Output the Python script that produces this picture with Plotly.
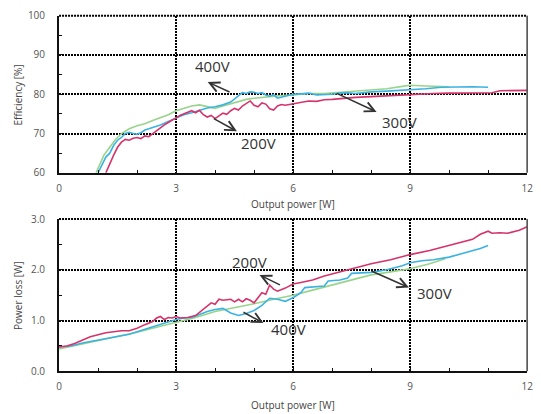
import plotly.graph_objects as go

# ---------------- data ----------------
eff_200_x = [1.20,1.30,1.40,1.50,1.60,1.70,1.80,1.90,2.00,2.10,2.20,2.30,2.40,2.50,2.60,2.70,2.80,2.90,3.00,3.10,3.20,3.30,3.40,3.50,3.60,3.70,3.80,3.90,4.00,4.10,4.20,4.30,4.40,4.50,4.60,4.70,4.80,4.90,5.00,5.10,5.20,5.30,5.40,5.50,5.60,5.70,5.80,6.00,6.20,6.40,6.60,6.80,7.00,7.30,7.60,8.00,8.40,8.80,9.20,9.60,10.00,10.40,10.80,11.10,11.30,11.60,12.00]
eff_200_y = [60.0,62.5,64.5,66.5,67.8,68.5,68.3,68.8,69.0,68.7,69.4,69.2,70.0,70.8,71.5,72.2,72.8,73.5,74.0,74.6,75.0,75.4,75.8,75.3,75.9,74.8,74.2,74.6,73.8,74.5,75.2,74.9,75.8,76.4,76.0,77.0,77.6,78.3,77.2,76.8,77.8,77.5,76.3,76.0,77.0,77.4,77.2,77.6,77.9,78.3,78.2,78.6,78.7,79.0,79.2,79.4,79.6,79.9,80.0,80.2,80.3,80.4,80.5,80.4,80.9,81.0,81.0]

eff_300_x = [1.00,1.10,1.20,1.30,1.40,1.50,1.60,1.70,1.80,1.90,2.00,2.10,2.20,2.30,2.40,2.60,2.80,3.00,3.20,3.40,3.60,3.80,4.00,4.20,4.40,4.50,4.60,4.70,4.80,4.90,5.00,5.10,5.20,5.30,5.40,5.50,5.60,5.70,5.80,6.00,6.20,6.40,6.60,6.80,7.00,7.20,7.40,7.60,8.00,8.40,8.80,9.00,9.40,9.80,10.20,10.60,11.00]
eff_300_y = [60.0,62.0,64.0,65.0,67.0,68.3,69.0,70.0,70.3,70.0,69.8,70.2,70.9,71.2,71.5,72.2,73.1,74.0,74.8,75.3,76.0,76.5,76.8,77.3,78.0,78.8,79.5,80.4,80.2,80.6,80.5,80.2,80.4,79.8,79.5,79.9,79.0,79.3,79.6,80.0,80.1,80.3,79.8,79.9,80.0,80.3,80.4,80.2,80.6,80.8,81.0,81.2,81.4,81.8,81.9,81.9,81.8]

eff_400_x = [0.95,1.05,1.15,1.30,1.45,1.60,1.80,2.00,2.20,2.40,2.60,2.80,3.00,3.20,3.40,3.60,3.80,4.00,4.20,4.40,4.60,4.80,5.00,5.30,5.60,6.00,6.40,6.80,7.20,7.60,8.00,8.40,8.80,9.00,9.40,9.80,10.00]
eff_400_y = [60.0,62.5,64.5,66.5,68.5,70.0,71.2,72.0,72.5,73.3,74.0,74.8,75.8,76.4,77.0,77.3,76.8,76.4,77.0,77.6,78.2,78.7,79.0,79.3,79.6,79.8,80.2,80.2,80.5,80.8,81.0,81.4,82.0,82.3,82.1,82.0,81.9]

loss_200_x = [0.00,0.20,0.40,0.60,0.80,1.00,1.20,1.40,1.60,1.80,2.00,2.20,2.40,2.50,2.60,2.70,2.80,2.90,3.00,3.10,3.30,3.50,3.70,3.80,3.90,4.00,4.10,4.20,4.40,4.50,4.60,4.70,4.80,4.90,5.00,5.10,5.20,5.30,5.40,5.50,5.60,5.80,6.00,6.20,6.50,6.80,7.00,7.50,8.00,8.50,9.00,9.50,10.00,10.40,10.60,10.80,11.00,11.10,11.30,11.50,11.80,12.00]
loss_200_y = [0.48,0.50,0.55,0.62,0.68,0.72,0.76,0.78,0.80,0.80,0.85,0.92,0.98,1.05,1.08,1.02,1.06,1.05,1.08,1.05,1.06,1.10,1.22,1.28,1.35,1.32,1.42,1.40,1.42,1.37,1.42,1.37,1.43,1.40,1.35,1.45,1.55,1.52,1.70,1.62,1.58,1.64,1.72,1.75,1.80,1.88,1.92,2.02,2.12,2.20,2.30,2.38,2.48,2.56,2.60,2.70,2.76,2.72,2.73,2.72,2.78,2.85]

loss_300_x = [0.00,0.30,0.60,1.00,1.40,1.80,2.00,2.40,2.80,3.00,3.20,3.40,3.60,3.80,4.00,4.20,4.40,4.60,4.80,5.00,5.20,5.40,5.60,5.80,6.00,6.20,6.30,6.60,6.80,6.90,7.20,7.40,7.50,8.00,8.40,8.80,9.00,9.30,9.60,10.00,10.40,10.80,11.00]
loss_300_y = [0.48,0.50,0.56,0.62,0.68,0.73,0.78,0.88,0.97,1.02,1.05,1.06,1.12,1.18,1.22,1.24,1.15,1.10,1.14,1.20,1.30,1.44,1.42,1.38,1.45,1.55,1.65,1.66,1.68,1.78,1.80,1.84,1.93,1.95,2.00,2.08,2.14,2.18,2.20,2.25,2.33,2.42,2.48]

loss_400_x = [0.00,0.50,1.00,1.50,2.00,2.50,3.00,3.50,4.00,4.50,5.00,5.50,6.00,6.50,7.00,7.50,8.00,8.50,9.00,9.50,9.90]
loss_400_y = [0.44,0.52,0.60,0.68,0.77,0.87,0.96,1.06,1.18,1.25,1.33,1.42,1.50,1.60,1.70,1.80,1.90,1.96,2.02,2.12,2.22]

x_ticks = [0, 3, 6, 9, 12]
eff_ticks = [60, 70, 80, 90, 100]
loss_ticks = [0.0, 1.0, 2.0, 3.0]

C200 = "#d6336b"
C300 = "#3cb2e2"
C400 = "#98d48c"

fig = go.Figure()
for xs, ys, c in [(eff_400_x, eff_400_y, C400), (eff_300_x, eff_300_y, C300), (eff_200_x, eff_200_y, C200)]:
    fig.add_trace(go.Scatter(x=xs, y=ys, mode="lines", line=dict(color=c, width=1.6), xaxis="x", yaxis="y", showlegend=False))
for xs, ys, c in [(loss_400_x, loss_400_y, C400), (loss_300_x, loss_300_y, C300), (loss_200_x, loss_200_y, C200)]:
    fig.add_trace(go.Scatter(x=xs, y=ys, mode="lines", line=dict(color=c, width=1.6), xaxis="x2", yaxis="y2", showlegend=False))

W, H = 541, 414
xd = [57 / W, 533 / W]
yd1 = [(H - 171) / H, (H - 8) / H]
yd2 = [(H - 377) / H, (H - 219) / H]

GRID = dict(showgrid=True, gridcolor="#000", griddash="2px,1px", gridwidth=1.6)
tickfont = dict(family="Open Sans", size=10, color="#555")
common_x = dict(range=[0, 12], tickvals=x_ticks, showline=True, linecolor="#111", linewidth=2,
                ticks="inside", ticklen=3, tickcolor="#111",
                minor=dict(dtick=1, ticks="inside", ticklen=3, tickcolor="#111", showgrid=False),
                tickfont=tickfont, zeroline=False, ticklabelstandoff=5, **GRID)
common_y = dict(showline=True, linecolor="#111", linewidth=2,
                ticks="inside", ticklen=3, tickcolor="#111",
                tickfont=tickfont, zeroline=False, ticklabelstandoff=10, **GRID)
fig.update_layout(
    width=W, height=H, margin=dict(l=0, r=0, t=0, b=0),
    paper_bgcolor="white", plot_bgcolor="white",
    xaxis=dict(domain=xd, anchor="y", **common_x),
    xaxis2=dict(domain=xd, anchor="y2", **common_x),
    yaxis=dict(domain=yd1, anchor="x", range=[60, 100], tickvals=eff_ticks,
               minor=dict(dtick=5, ticks="inside", ticklen=3, tickcolor="#111", showgrid=False), **common_y),
    yaxis2=dict(domain=yd2, anchor="x2", range=[0, 3], tickvals=loss_ticks, tickformat=".1f",
                minor=dict(dtick=0.5, ticks="inside", ticklen=3, tickcolor="#111", showgrid=False), **common_y),
)

# frame: dotted top, solid right
for xr, yr in [("x domain", "y domain"), ("x2 domain", "y2 domain")]:
    fig.add_shape(type="line", xref=xr, yref=yr, x0=0, x1=1, y0=1, y1=1, line=dict(color="#000", width=2, dash="2px,1px"))
    fig.add_shape(type="line", xref=xr, yref=yr, x0=1, x1=1, y0=0, y1=1, line=dict(color="#444", width=1.5))

lab = dict(family="Open Sans", size=15, color="#333")
# text labels
for txt, x, y, xr, yr in [("400V", 3.93, 87.2, "x", "y"), ("200V", 5.12, 67.6, "x", "y"), ("300V", 8.72, 73.0, "x", "y"),
                          ("200V", 4.89, 2.15, "x2", "y2"), ("400V", 5.87, 0.84, "x2", "y2"), ("300V", 9.63, 1.54, "x2", "y2")]:
    fig.add_annotation(text=txt, x=x, y=y, xref=xr, yref=yr, showarrow=False, font=lab, bgcolor="rgba(0,0,0,0)")

# arrows (head x,y ; tail ax,ay)
for hx, hy, tx, ty, xr, yr in [(3.81, 83.1, 4.41, 80.4, "x", "y"), (4.56, 70.55, 3.93, 74.0, "x", "y"), (8.14, 75.5, 7.08, 80.4, "x", "y"),
                               (5.14, 1.90, 5.70, 1.69, "x2", "y2"), (5.24, 0.95, 4.69, 1.18, "x2", "y2"), (8.97, 1.65, 7.97, 1.99, "x2", "y2")]:
    fig.add_annotation(text="", x=hx, y=hy, ax=tx, ay=ty, xref=xr, yref=yr, axref=xr, ayref=yr,
                       showarrow=True, arrowhead=5, arrowsize=1.3, arrowwidth=1.5, arrowcolor="#333")

tfont = dict(family="Open Sans", size=10, color="#444")
fig.add_annotation(text="Efficiency [%]", x=15 / W, y=(H - 90) / H, xref="paper", yref="paper", textangle=-90,
                   xanchor="center", yanchor="middle", showarrow=False, font=tfont)
fig.add_annotation(text="Power loss [W]", x=15 / W, y=(H - 298) / H, xref="paper", yref="paper", textangle=-90,
                   xanchor="center", yanchor="middle", showarrow=False, font=tfont)
fig.add_annotation(text="Output power [W]", x=295 / W, y=(H - 203) / H, xref="paper", yref="paper",
                   xanchor="center", yanchor="middle", showarrow=False, font=tfont)
fig.add_annotation(text="Output power [W]", x=295 / W, y=(H - 403) / H, xref="paper", yref="paper",
                   xanchor="center", yanchor="top", showarrow=False, font=tfont)

fig.write_html("out.html")
